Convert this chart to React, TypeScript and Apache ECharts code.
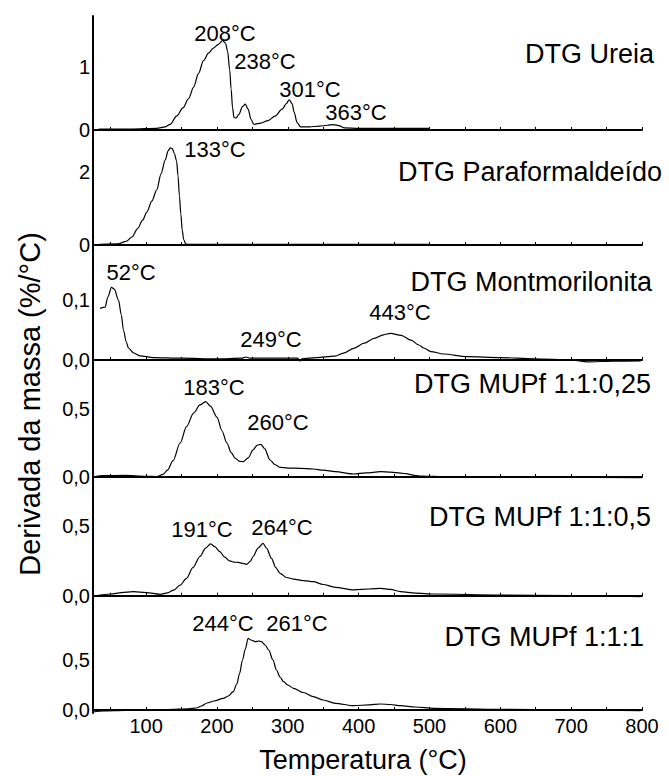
import React, { useEffect, useRef } from "react";
import * as echarts from "echarts";

// ---------- data ----------
const xLabelValues = [100, 200, 300, 400, 500, 600, 700, 800];
const xTickValues = [50, 100, 150, 200, 250, 300, 350, 400, 450, 500, 550, 600, 650, 700, 750, 800];

const panelNames = [
  "DTG Ureia",
  "DTG Paraformaldeído",
  "DTG Montmorilonita",
  "DTG MUPf 1:1:0,25",
  "DTG MUPf 1:1:0,5",
  "DTG MUPf 1:1:1",
];

const yLabelValues = [[0, 1], [0, 2], [0, 0.1], [0, 0.5], [0, 0.5], [0, 0.5]];
const yLabelDecimals = [0, 0, 1, 1, 1, 1];
const yMin = [-0.032, -0.082, -0.0067, -0.0294, -0.0093, -0.03];
const yMax = [1.809, 3.096, 0.1867, 0.831, 0.819, 1.13];

const ureia: [number, number][] = [
  [33, 0.015], [80, 0.015], [115, 0.025], [127, 0.05], [134, 0.09], [143, 0.22], [152, 0.35],
  [160, 0.5], [167, 0.68], [174, 0.9], [181, 1.1], [188, 1.22], [195, 1.3], [202, 1.36],
  [208, 1.42], [212, 1.38], [215, 1.25], [218, 0.95], [220, 0.65], [222, 0.35], [224, 0.2],
  [227, 0.19], [231, 0.25], [236, 0.37], [240, 0.41], [244, 0.33], [248, 0.17], [252, 0.09],
  [262, 0.11], [272, 0.15], [282, 0.22], [292, 0.33], [298, 0.42], [302, 0.48], [306, 0.42],
  [309, 0.28], [313, 0.12], [318, 0.05], [330, 0.05], [345, 0.06], [356, 0.075], [364, 0.085],
  [372, 0.07], [380, 0.035], [400, 0.025], [500, 0.025],
];

const paraformaldeido: [number, number][] = [
  [35, 0.02], [60, 0.03], [72, 0.1], [80, 0.22], [88, 0.45], [95, 0.68], [101, 0.9],
  [108, 1.2], [115, 1.51], [121, 1.95], [127, 2.33], [131, 2.58], [134, 2.66], [137, 2.64],
  [140, 2.5], [143, 2.3], [145, 1.9], [147, 1.35], [149, 0.85], [151, 0.4], [153, 0.15],
  [156, 0.03], [160, 0.02], [500, 0.02],
];

const montmorilonita: [number, number][] = [
  [35, 0.086], [42, 0.088], [46, 0.105], [51, 0.121], [55, 0.118], [61, 0.1], [65, 0.075],
  [68, 0.05], [72, 0.03], [75, 0.02], [82, 0.012], [91, 0.007], [110, 0.004], [150, 0.003],
  [200, 0.002], [235, 0.003], [241, 0.005], [246, 0.003], [300, 0.003], [314, 0.003],
  [317, -0.002], [320, 0.002], [340, 0.004], [366, 0.0065], [380, 0.012], [393, 0.0195],
  [408, 0.028], [422, 0.036], [435, 0.042], [445, 0.0445], [460, 0.041], [474, 0.033],
  [485, 0.025], [492, 0.02], [502, 0.014], [520, 0.01], [553, 0.0056], [600, 0.004],
  [648, 0.002], [700, 0.0], [723, -0.003], [760, -0.002], [798, -0.0017],
];

const mupf025: [number, number][] = [
  [25, 0.0], [40, 0.01], [70, 0.012], [100, 0.005], [115, 0.003], [124, 0.02], [130, 0.05],
  [138, 0.12], [148, 0.25], [157, 0.37], [167, 0.47], [176, 0.53], [184, 0.555], [191, 0.52],
  [200, 0.44], [207, 0.34], [214, 0.25], [220, 0.18], [226, 0.137], [232, 0.115], [237, 0.113],
  [244, 0.14], [251, 0.2], [257, 0.235], [262, 0.24], [267, 0.21], [275, 0.125], [282, 0.09],
  [289, 0.071], [300, 0.066], [317, 0.064], [336, 0.059], [350, 0.05], [367, 0.039],
  [393, 0.022], [410, 0.03], [431, 0.039], [445, 0.036], [459, 0.029], [488, 0.007],
  [520, 0.003], [553, 0.0], [800, -0.005],
];

const mupf05: [number, number][] = [
  [25, -0.01], [35, 0.005], [50, 0.012], [65, 0.022], [82, 0.029], [100, 0.022], [120, 0.01],
  [130, 0.02], [139, 0.04], [148, 0.075], [157, 0.124], [166, 0.2], [176, 0.28], [184, 0.34],
  [191, 0.37], [197, 0.35], [204, 0.314], [211, 0.275], [218, 0.248], [224, 0.24], [230, 0.238],
  [237, 0.23], [242, 0.224], [247, 0.245], [251, 0.28], [258, 0.34], [265, 0.374], [270, 0.34],
  [277, 0.267], [283, 0.2], [289, 0.16], [298, 0.13], [308, 0.119], [322, 0.108], [336, 0.1],
  [350, 0.08], [367, 0.06], [393, 0.041], [415, 0.048], [431, 0.053], [445, 0.045],
  [459, 0.029], [480, 0.018], [506, 0.012], [600, 0.005], [700, 0.0], [798, -0.007],
];

const mupf1: [number, number][] = [
  [25, -0.02], [40, -0.01], [70, -0.005], [100, 0.0], [130, 0.005], [160, 0.012], [171, 0.02],
  [178, 0.04], [186, 0.07], [196, 0.09], [209, 0.117], [216, 0.14], [223, 0.183], [228, 0.26],
  [232, 0.367], [236, 0.5], [240, 0.61], [244, 0.717], [248, 0.7], [254, 0.683], [259, 0.69],
  [263, 0.683], [268, 0.65], [273, 0.6], [279, 0.5], [284, 0.4], [289, 0.33], [294, 0.283],
  [300, 0.25], [308, 0.217], [322, 0.175], [336, 0.133], [350, 0.1], [367, 0.067],
  [393, 0.043], [415, 0.052], [431, 0.06], [445, 0.055], [459, 0.043], [480, 0.03],
  [506, 0.017], [600, 0.007], [700, 0.0], [798, -0.007],
];

const seriesData = [ureia, paraformaldeido, montmorilonita, mupf025, mupf05, mupf1];

const peakLabels = [
  "208°C", "238°C", "301°C", "363°C", "133°C", "52°C", "249°C", "443°C",
  "183°C", "260°C", "191°C", "264°C", "244°C", "261°C",
];

// ---------- layout (pixels) ----------
const FONT = "'Liberation Sans', Arial, sans-serif";
const GRID_LEFT = 93;
const GRID_WIDTH = 549;
const panelTops = [16, 132, 248, 364, 481, 597];
const panelBottoms = [132, 248, 364, 481, 597, 713];
const titlePos: [number, number][] = [
  [654, 54], [662, 172], [652, 282], [651, 384], [651, 517], [644, 637],
];
const peakLabelPos: [number, number][] = [
  [225, 33], [265, 61], [310, 89], [356, 112], [215, 149], [131, 272], [271, 339], [400, 312],
  [214, 387], [278, 422], [202, 529], [282, 527], [223, 623], [297, 623],
];

export default function App() {
  const ref = useRef<HTMLDivElement>(null);

  useEffect(() => {
    if (!ref.current) return;
    const chart = echarts.init(ref.current, null, { renderer: "svg" });
    const n = seriesData.length;

    const grids = panelTops.map((t, i) => ({
      left: GRID_LEFT,
      width: GRID_WIDTH,
      top: t,
      height: panelBottoms[i] - t,
      containLabel: false,
    }));

    const xAxes = panelTops.map((_, i) => ({
      type: "value",
      gridIndex: i,
      min: 25,
      max: 800,
      axisLine: { show: true, lineStyle: { color: "#000", width: 2 } },
      axisTick: {
        show: true,
        inside: true,
        length: 3,
        customValues: xTickValues,
        lineStyle: { color: "#000", width: 1 },
      },
      axisLabel: {
        show: i === n - 1,
        customValues: xLabelValues,
        color: "#000",
        fontSize: 20,
        fontFamily: FONT,
        margin: 3,
      },
      splitLine: { show: false },
    }));

    const yAxes = panelTops.map((_, i) => ({
      type: "value",
      gridIndex: i,
      min: yMin[i],
      max: yMax[i],
      axisLine: { show: true, onZero: false, lineStyle: { color: "#000", width: 2 } },
      axisTick: { show: false },
      axisLabel: {
        show: true,
        customValues: yLabelValues[i],
        formatter: (v: number) => v.toFixed(yLabelDecimals[i]).replace(".", ","),
        color: "#000",
        fontSize: 20,
        fontFamily: FONT,
        margin: 3,
      },
      splitLine: { show: false },
    }));

    const series = seriesData.map((d, i) => ({
      type: "line",
      xAxisIndex: i,
      yAxisIndex: i,
      data: d,
      showSymbol: false,
      smooth: 0.3,
      smoothMonotone: "x",
      lineStyle: { color: "#000", width: 1.2 },
      clip: false,
    }));

    const graphic: any[] = [];
    panelNames.forEach((name, i) => {
      graphic.push({
        type: "text",
        x: titlePos[i][0],
        y: titlePos[i][1],
        style: {
          text: name,
          fill: "#000",
          font: `27px ${FONT}`,
          align: "right",
          verticalAlign: "middle",
        },
      });
    });
    peakLabels.forEach((t, i) => {
      graphic.push({
        type: "text",
        x: peakLabelPos[i][0],
        y: peakLabelPos[i][1],
        style: {
          text: t,
          fill: "#000",
          font: `22px ${FONT}`,
          align: "center",
          verticalAlign: "middle",
        },
      });
    });
    graphic.push({
      type: "text",
      x: 363,
      y: 760,
      style: {
        text: "Temperatura (°C)",
        fill: "#000",
        font: `27px ${FONT}`,
        align: "center",
        verticalAlign: "middle",
      },
    });
    graphic.push({
      type: "text",
      x: 30,
      y: 404,
      rotation: Math.PI / 2,
      style: {
        text: "Derivada da massa (%/°C)",
        fill: "#000",
        font: `29px ${FONT}`,
        align: "center",
        verticalAlign: "middle",
      },
    });

    chart.setOption({
      animation: false,
      backgroundColor: "#fff",
      grid: grids,
      xAxis: xAxes,
      yAxis: yAxes,
      series,
      graphic,
    });

    return () => chart.dispose();
  }, []);

  return (
    <div
      ref={ref}
      style={{ position: "fixed", left: 0, top: 0, width: 669, height: 776, background: "#fff" }}
    />
  );
}
